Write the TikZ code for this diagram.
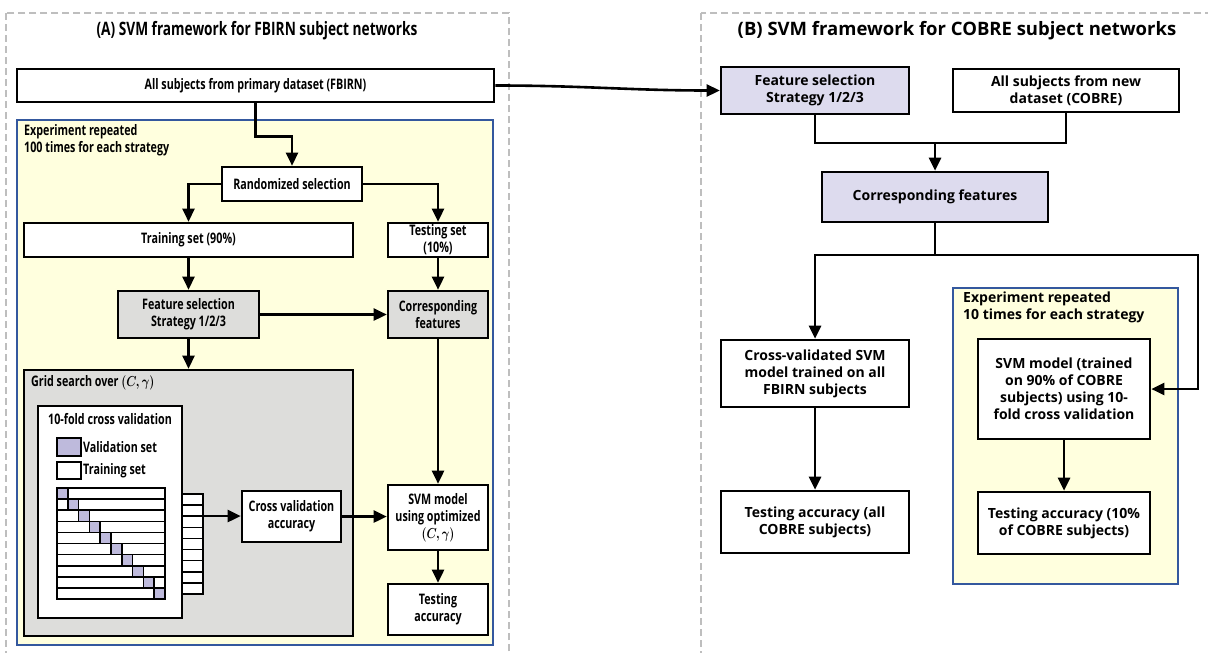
\documentclass[tikz,border=0pt]{standalone}
\usepackage{fontspec}
\setmainfont{Open Sans}
\newfontfamily\narrowfont{Open Sans}[FakeStretch=0.74]
\usetikzlibrary{arrows.meta}
\definecolor{panelgray}{RGB}{190,190,190}
\definecolor{frameblue}{RGB}{52,88,158}
\definecolor{repyellow}{RGB}{255,255,222}
\definecolor{boxgray}{RGB}{221,221,219}
\definecolor{boxlilac}{RGB}{221,219,238}
\definecolor{celllilac}{RGB}{190,186,220}
\newcommand{\Cgam}{\scalebox{0.8}[1]{\boldmath$(C,\gamma)$}}

\begin{document}
\begin{tikzpicture}[x=1pt, y=-1pt,
    panel/.style={draw=panelgray, line width=2pt, dash pattern=on 7pt off 4pt},
    repeatbox/.style={draw=frameblue, line width=2.2pt, fill=repyellow},
    box/.style={rectangle, draw=black, line width=2.6pt, fill=white, align=center,
                inner sep=0pt, font=\narrowfont\fontsize{14.5}{17}\selectfont\bfseries},
    boxb/.style={box, font=\fontsize{14}{17}\selectfont\bfseries},
    graybox/.style={box, fill=boxgray},
    lilacbox/.style={boxb, fill=boxlilac},
    title/.style={font=\fontsize{18.5}{20}\selectfont\bfseries},
    label/.style={inner sep=0pt, align=left, font=\narrowfont\fontsize{14.5}{17}\selectfont\bfseries},
    labelb/.style={label, font=\fontsize{14}{17}\selectfont\bfseries},
    arrow/.style={-{Triangle[length=13pt, width=12pt]}, line width=2.6pt},
    line/.style={line width=2.6pt}]

    \clip (0,0) rectangle (1208,653);
    \fill[white] (0,0) rectangle (1208,653);

    % panels
    \draw[panel] (6,13) rectangle (509,680);
    \draw[panel] (701,13) rectangle (1230,680);
    \node[title, font=\narrowfont\fontsize{18.5}{20}\selectfont\bfseries] (titleA) at (257,31) {(A) SVM framework for FBIRN subject networks};
    \node[title] (titleB) at (957,31) {(B) SVM framework for COBRE subject networks};

    % ---- panel A ----
    \node[box, minimum width=477pt, minimum height=33pt] (fbirn) at (255.5,85.5) {All subjects from primary dataset (FBIRN)};
    \draw[repeatbox] (17,120) rectangle (493,645);
    \node[label, anchor=north west] (repA) at (24,124) {Experiment repeated\\100 times for each strategy};

    \node[box, minimum width=140pt, minimum height=34pt] (rand) at (292,184) {Randomized selection};
    \node[box, minimum width=329pt, minimum height=34pt] (train) at (188.5,240) {Training set (90\%)};
    \node[box, minimum width=100pt, minimum height=34pt] (test) at (438,240) {Testing set\\(10\%)};
    \node[graybox, minimum width=141pt, minimum height=47pt] (featA) at (188.5,314.5) {Feature selection\\Strategy 1/2/3};
    \node[graybox, minimum width=100pt, minimum height=47pt] (corrA) at (438,314.5) {Corresponding\\features};

    \node[graybox, minimum width=329pt, minimum height=266pt] (grid) at (188.5,503) {};
    \node[label, anchor=west] (gridlbl) at (31,383) {Grid search over \Cgam};
    \node[box, minimum width=144pt, minimum height=212pt] (fold) at (110,512) {};
    \node[label] (foldlbl) at (110,419) {10-fold cross validation};

    % legend
    \draw[line width=2pt, fill=celllilac] (57,438) rectangle (81,456);
    \draw[line width=2pt, fill=white] (57,462) rectangle (81,479);
    \node[label, anchor=west] (vallbl) at (83,447) {Validation set};
    \node[label, anchor=west] (trlbl) at (83,471) {Training set};

    % folds
    \foreach \i in {0,...,9} {
        \draw[line width=1.6pt, fill=white] (57,488+\i*11.1) rectangle (165,488+\i*11.1+11.1);
        \draw[line width=1.6pt, fill=celllilac] (57+\i*10.8,488+\i*11.1) rectangle (57+\i*10.8+10.8,488+\i*11.1+11.1);
    }
    \draw[line width=1.6pt, fill=white] (182,494) rectangle (203,594);
    \foreach \i in {1,...,8}
        \draw[line width=1.6pt] (182,494+\i*11.11) -- (203,494+\i*11.11);
    \coordinate (stackout) at (203,516);

    \node[box, minimum width=99pt, minimum height=51pt] (cva) at (291.5,516.5) {Cross validation\\accuracy};
    \node[box, minimum width=100pt, minimum height=65pt] (svmA) at (438,517.5) {SVM model\\using optimized\\\Cgam};
    \node[box, minimum width=100pt, minimum height=51pt] (testacc) at (438,609.5) {Testing\\accuracy};

    \draw[arrow] (fbirn.south) -- ++(0,33) -| (rand.north);
    \draw[arrow] (rand.west) -| (train.north);
    \draw[arrow] (rand.east) -| (test.north);
    \draw[arrow] (train.south) -- (featA.north);
    \draw[arrow] (test.south) -- (corrA.north);
    \draw[arrow] (featA.east) -- (corrA.west);
    \draw[arrow] (featA.south) -- (grid.north);
    \draw[arrow] (corrA.south) -- (svmA.north);
    \draw[arrow] (stackout) -- (stackout -| cva.west);
    \draw[arrow] (cva.east) -- (cva.east -| svmA.west);
    \draw[arrow] (svmA.south) -- (testacc.north);

    % ---- panel B ----
    \node[lilacbox, minimum width=188pt, minimum height=47pt] (featB) at (815,90.5) {Feature selection\\Strategy 1/2/3};
    \node[boxb, minimum width=226pt, minimum height=43pt] (cobre) at (1066,90.5) {All subjects from new\\dataset (COBRE)};
    \node[lilacbox, minimum width=226pt, minimum height=50pt] (corrB) at (935,197) {Corresponding features};
    \node[boxb, minimum width=188pt, minimum height=67pt] (cvsvm) at (815,373.5) {Cross-validated SVM\\model trained on all\\FBIRN subjects};
    \node[boxb, minimum width=188pt, minimum height=62pt] (testall) at (815,522) {Testing accuracy (all\\COBRE subjects)};

    \draw[repeatbox] (953,288) rectangle (1178,584);
    \node[labelb, anchor=north west] (repB) at (963,292) {Experiment repeated\\10 times for each strategy};
    \node[boxb, minimum width=172pt, minimum height=100pt] (svmB) at (1064,389) {SVM model (trained\\on 90\% of COBRE\\subjects) using 10-\\fold cross validation};
    \node[boxb, minimum width=172pt, minimum height=62pt] (test10) at (1064,523) {Testing accuracy (10\%\\of COBRE subjects)};

    \coordinate (joinB) at (935,143);
    \coordinate (splitB) at (935,255);
    \coordinate (rightB) at (1198,255);

    \draw[arrow] (fbirn.east) to[out=0, in=180] (featB.west);
    \draw[line] (featB.south) |- (joinB);
    \draw[line] (cobre.south) |- (joinB);
    \draw[arrow] (joinB) -- (corrB.north);
    \draw[line] (corrB.south) -- (splitB);
    \draw[arrow] (splitB) -| (cvsvm.north);
    \draw[arrow] (splitB) -- (rightB) |- (svmB.east);
    \draw[arrow] (cvsvm.south) -- (testall.north);
    \draw[arrow] (svmB.south) -- (test10.north);
\end{tikzpicture}
\end{document}
